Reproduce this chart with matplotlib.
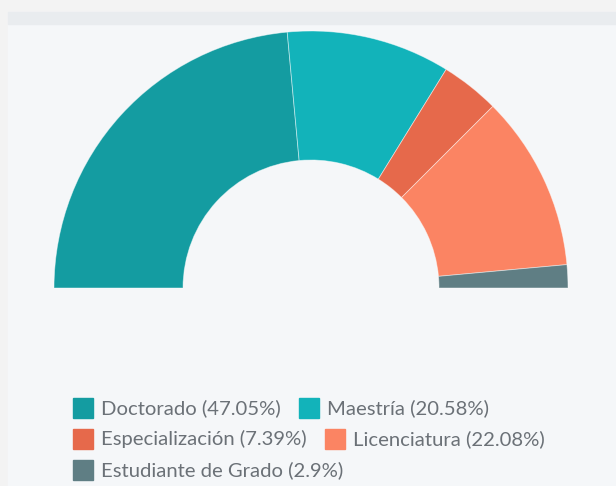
import matplotlib.pyplot as plt
from matplotlib.patches import Rectangle

# datos
categorias = ['Doctorado', 'Maestría', 'Especialización', 'Licenciatura', 'Estudiante de Grado']
porcentajes = [47.05, 20.58, 7.39, 22.08, 2.9]
colores = ['#149ca1', '#12b3ba', '#e6694b', '#fb8463', '#5f7e84']

W, H = 616, 486
fig = plt.figure(figsize=(W / 100, H / 100), dpi=100)
fig.patch.set_facecolor('#f3f3f3')

ax = fig.add_axes([0, 0, 1, 1])
ax.set_xlim(0, W)
ax.set_ylim(0, H)
ax.axis('off')

# fondo del panel
ax.add_patch(Rectangle((8, 0), W - 8, H - 12, color='#f5f7f9', zorder=0))
ax.add_patch(Rectangle((8, H - 24), W - 8, 12, color='#e9ecef', zorder=0))

# medio donut: la mitad inferior es una porcion invisible
total = sum(porcentajes)
wedges, _ = ax.pie(porcentajes + [total], colors=colores + ['none'],
                   startangle=180, counterclock=False,
                   center=(311, H - 288), radius=257, frame=True,
                   wedgeprops=dict(width=129, edgecolor=(1, 1, 1, 0.5), linewidth=0.6))
wedges[-1].set_edgecolor('none')
ax.set_xlim(0, W)
ax.set_ylim(0, H)
ax.set_aspect('equal')
ax.axis('off')

# leyenda en flujo
fig.canvas.draw()
renderer = fig.canvas.get_renderer()
filas = [[0, 1], [2, 3], [4]]
y_filas = [408, 439, 470]
for fila, yy in zip(filas, y_filas):
    x = 73
    for i in fila:
        ax.add_patch(Rectangle((x, H - yy - 10), 20, 20, color=colores[i], zorder=3))
        t = ax.text(x + 28, H - yy, f'{categorias[i]} ({porcentajes[i]}%)',
                    fontsize=14.6, family='Lato', color='#6b7177', va='center', ha='left')
        bb = t.get_window_extent(renderer)
        x = bb.x1 + 18

fig.savefig('out.png', dpi=100, facecolor=fig.get_facecolor())
